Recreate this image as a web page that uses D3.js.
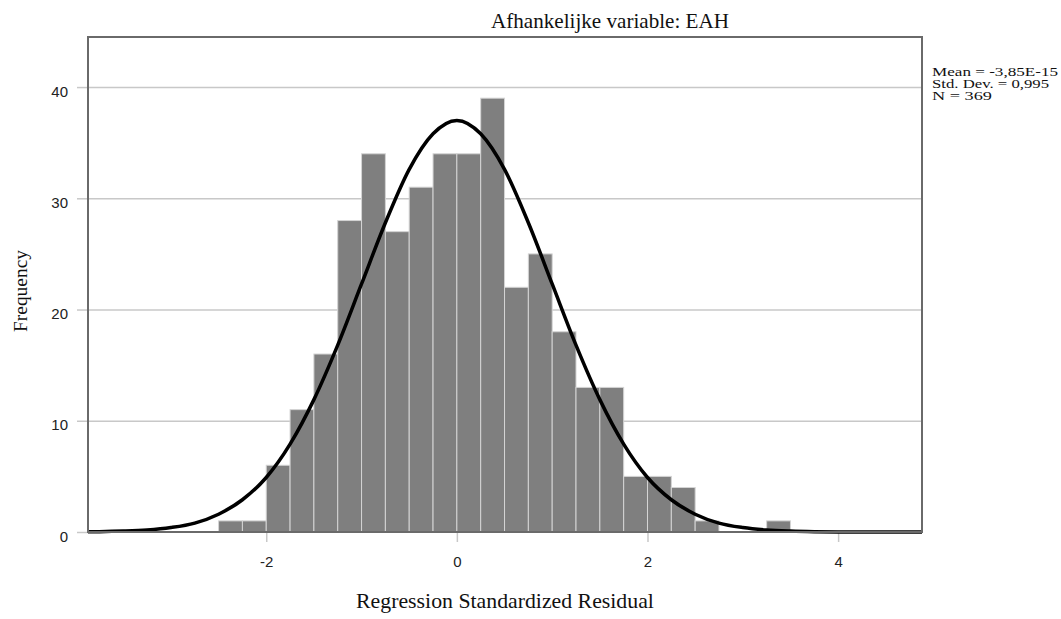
<!DOCTYPE html>
<html>
<head>
<meta charset="utf-8">
<script src="https://cdn.jsdelivr.net/npm/d3@7"></script>
<style>
    body { margin: 0; background: #fff; }
    svg { display: block; }
</style>
</head>
<body>
<div id="chart"></div>
<script>

// histogram bins (left edge of each bin, width 0.25) and counts
const binStart = [-2.5, -2.25, -2, -1.75, -1.5, -1.25, -1, -0.75, -0.5, -0.25,
                  0, 0.25, 0.5, 0.75, 1, 1.25, 1.5, 1.75, 2, 2.25, 2.5, 2.75, 3, 3.25];
const binCount = [1, 1, 6, 11, 16, 28, 34, 27, 31, 34,
                  34, 39, 22, 25, 18, 13, 13, 5, 5, 4, 1, 0, 0, 1];
const binWidth = 0.25;

// normal curve
const curveX = [-3.87, -3.75, -3.5, -3.25, -3, -2.75, -2.5, -2.25, -2, -1.75, -1.5, -1.25, -1, -0.75, -0.5, -0.25,
                0, 0.25, 0.5, 0.75, 1, 1.25, 1.5, 1.75, 2, 2.25, 2.5, 2.75, 3, 3.25, 3.5, 3.75, 4, 4.25, 4.5, 4.88];
const curveY = [0.02, 0.03, 0.08, 0.18, 0.4, 0.8, 1.6, 2.9, 4.9, 7.9, 11.9, 16.8, 22.3, 27.8, 32.6, 35.8,
                37.0, 35.8, 32.6, 27.8, 22.3, 16.8, 11.9, 7.9, 4.9, 2.9, 1.6, 0.8, 0.4, 0.18, 0.08, 0.03, 0.01, 0, 0, 0];

const xTicks = [-2, 0, 2, 4];
const yTicks = [0, 10, 20, 30, 40];

const titleText = "Afhankelijke variable: EAH";
const xLabel = "Regression Standardized Residual";
const yLabel = "Frequency";
const statsLines = ["Mean = -3,85E-15", "Std. Dev. = 0,995", "N = 369"];

const width = 1061, height = 619;
const plot = {left: 88, right: 922, top: 37, bottom: 532};

const serif = "'Liberation Serif', 'Times New Roman', serif";
const sans = "'Liberation Sans', Arial, sans-serif";

const xScale = d3.scaleLinear()
    .domain([-3.87, 4.88])
    .range([plot.left, plot.right]);

const yScale = d3.scaleLinear()
    .domain([0, 44.5])
    .range([plot.bottom, plot.top]);

const svg = d3.select("#chart")
    .append("svg")
    .attr("width", width)
    .attr("height", height);

// fit a text to a width measured on the picture
function fitText(sel, targetWidth) {
    const w = sel.node().getComputedTextLength();
    const fs = parseFloat(sel.style("font-size"));
    sel.style("font-size", (fs * targetWidth / w) + "px");
}

/* grid lines + y axis */
svg.append("g")
    .attr("class", "y axis")
    .attr("transform", "translate(" + plot.left + ",0)")
    .call(d3.axisLeft(yScale)
        .tickValues(yTicks)
        .tickSize(11)
        .tickPadding(9))
    .call(function (g) {
        g.select(".domain").remove();
        g.selectAll(".tick line").attr("stroke", "#c8c8c8").attr("stroke-width", 1.5);
        g.selectAll(".tick text")
            .attr("dy", "0.6em")
            .style("font-family", sans)
            .style("font-size", "15px")
            .attr("fill", "#222");
        g.selectAll(".tick")
            .filter(function (d) { return d > 0; })
            .append("line")
            .attr("x1", 0)
            .attr("x2", plot.right - plot.left)
            .attr("stroke", "#c8c8c8")
            .attr("stroke-width", 1.5);
    });

/* bars */
svg.append("g")
    .selectAll("rect")
    .data(binStart)
    .enter()
    .filter(function (d, i) { return binCount[i] > 0; })
    .append("rect")
    .attr("x", function (d) { return xScale(d); })
    .attr("width", function (d) { return xScale(d + binWidth) - xScale(d); })
    .attr("y", function (d) { return yScale(binCount[binStart.indexOf(d)]); })
    .attr("height", function (d) { return plot.bottom - yScale(binCount[binStart.indexOf(d)]); })
    .attr("fill", "#7f7f7f")
    .attr("stroke", "#d4d4d4")
    .attr("stroke-width", 1);

/* x axis */
svg.append("g")
    .attr("class", "x axis")
    .attr("transform", "translate(0," + plot.bottom + ")")
    .call(d3.axisBottom(xScale)
        .tickValues(xTicks)
        .tickFormat(function (d) { return String(d); })
        .tickSize(10)
        .tickPadding(14))
    .call(function (g) {
        g.select(".domain").remove();
        g.selectAll(".tick line").attr("stroke", "#c8c8c8").attr("stroke-width", 1.5);
        g.selectAll(".tick text")
            .style("font-family", sans)
            .style("font-size", "15px")
            .attr("fill", "#222");
    });

svg.append("line")
    .attr("x1", plot.left)
    .attr("x2", plot.right)
    .attr("y1", yScale(0))
    .attr("y2", yScale(0))
    .attr("stroke", "#000")
    .attr("stroke-width", 1.5);

/* normal curve */
svg.append("path")
    .datum(curveX)
    .attr("d", d3.line()
        .x(function (d) { return xScale(d); })
        .y(function (d, i) { return yScale(curveY[i]); })
        .curve(d3.curveMonotoneX))
    .attr("fill", "none")
    .attr("stroke", "#000")
    .attr("stroke-width", 3.5);

/* frame */
svg.append("rect")
    .attr("x", plot.left)
    .attr("y", plot.top)
    .attr("width", plot.right - plot.left)
    .attr("height", plot.bottom - plot.top)
    .attr("fill", "none")
    .attr("stroke", "#6a6a6a")
    .attr("stroke-width", 2);

/* texts */
const title = svg.append("text")
    .attr("x", 610)
    .attr("y", 28)
    .attr("text-anchor", "middle")
    .style("font-family", serif)
    .style("font-size", "20px")
    .attr("fill", "#111")
    .text(titleText);
fitText(title, 238);

const xl = svg.append("text")
    .attr("x", 505)
    .attr("y", 608)
    .attr("text-anchor", "middle")
    .style("font-family", serif)
    .style("font-size", "20px")
    .attr("fill", "#111")
    .text(xLabel);
fitText(xl, 298);

const yl = svg.append("text")
    .attr("transform", "translate(27,291) rotate(-90)")
    .attr("text-anchor", "middle")
    .style("font-family", serif)
    .style("font-size", "20px")
    .attr("fill", "#111")
    .text(yLabel);
fitText(yl, 82);

// stats block, tight leading
const statsWidth = [126, 117, 60];
svg.append("g")
    .selectAll("text")
    .data(statsLines)
    .enter()
    .append("text")
    .attr("x", 932)
    .attr("y", function (d, i) { return 76 + i * 12; })
    .attr("textLength", function (d, i) { return statsWidth[i]; })
    .attr("lengthAdjust", "spacingAndGlyphs")
    .style("font-family", serif)
    .style("font-size", "13px")
    .attr("fill", "#111")
    .text(function (d) { return d; });

</script>
</body>
</html>
